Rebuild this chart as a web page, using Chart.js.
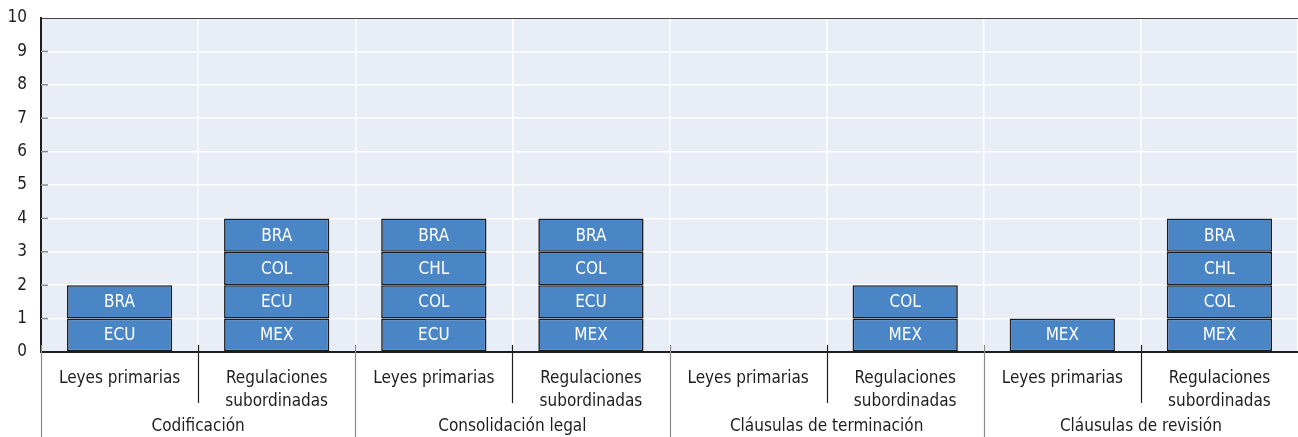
<!DOCTYPE html>
<html>
<head>
<meta charset="utf-8">
<script src="https://cdn.jsdelivr.net/npm/chart.js@4"></script>
<style>
  html, body { margin: 0; padding: 0; background: #fff; }
  #wrap { width: 1298px; height: 437px; }
</style>
</head>
<body>
<div id="wrap"><canvas id="chart"></canvas></div>
<script>
// categories (sub level) and groups (top level)
const subLabels = [
  ["Leyes primarias"], ["Regulaciones", "subordinadas"],
  ["Leyes primarias"], ["Regulaciones", "subordinadas"],
  ["Leyes primarias"], ["Regulaciones", "subordinadas"],
  ["Leyes primarias"], ["Regulaciones", "subordinadas"]
];
const groups = ["Codificación", "Consolidación legal", "Cláusulas de terminación", "Cláusulas de revisión"];

// country code for each stacked block, bottom to top
const layer1 = ["ECU", "MEX", "ECU", "MEX", null, "MEX", "MEX", "MEX"];
const layer2 = ["BRA", "ECU", "COL", "ECU", null, "COL", null, "COL"];
const layer3 = [null, "COL", "CHL", "COL", null, null, null, "CHL"];
const layer4 = [null, "BRA", "BRA", "BRA", null, null, null, "BRA"];
const layers = [layer1, layer2, layer3, layer4];

const yTicks = [0, 1, 2, 3, 4, 5, 6, 7, 8, 9, 10];

const FONT = '"DejaVu Sans Condensed", "Liberation Sans Narrow", sans-serif';
const BAR = '#4a86c6';
const DARK = '#1e1e1e';

// plot background
const bgPlugin = {
  id: 'bg',
  beforeDraw(chart) {
    const { ctx, chartArea: a } = chart;
    ctx.save();
    ctx.fillStyle = '#e9edf6';
    ctx.fillRect(a.left, a.top, a.right - a.left, a.bottom - a.top);
    ctx.restore();
  }
};

// country codes inside the blocks
const blockLabels = {
  id: 'blockLabels',
  afterDatasetsDraw(chart) {
    const ctx = chart.ctx;
    ctx.save();
    ctx.fillStyle = '#fff';
    ctx.font = '17px ' + FONT;
    ctx.textAlign = 'center';
    ctx.textBaseline = 'middle';
    chart.data.datasets.forEach((ds, di) => {
      const meta = chart.getDatasetMeta(di);
      meta.data.forEach((el, i) => {
        const code = layers[di][i];
        if (!code) return;
        ctx.fillText(code, el.x, (el.y + el.base) / 2 + 1);
      });
    });
    ctx.restore();
  }
};

// separators below the axis, group labels, little y ticks, top border
const axisExtras = {
  id: 'axisExtras',
  afterDraw(chart) {
    const { ctx, chartArea: a } = chart;
    const x = chart.scales.x;
    const y = chart.scales.y;
    const step = (a.right - a.left) / subLabels.length;
    ctx.save();
    // top border
    ctx.strokeStyle = '#444';
    ctx.lineWidth = 1;
    ctx.beginPath();
    ctx.moveTo(a.left, a.top + 0.5);
    ctx.lineTo(a.right, a.top + 0.5);
    ctx.stroke();
    // small y ticks inside plot
    ctx.strokeStyle = '#8a8a8a';
    ctx.lineWidth = 1.5;
    yTicks.slice(1, -1).forEach(v => {
      const py = y.getPixelForValue(v);
      ctx.beginPath();
      ctx.moveTo(a.left, py);
      ctx.lineTo(a.left + 7, py);
      ctx.stroke();
    });
    // separators
    for (let i = 0; i < subLabels.length; i++) {
      const bx = a.left + i * step;
      const isGroup = i % 2 === 0;
      ctx.strokeStyle = isGroup ? '#8a8a8a' : DARK;
      ctx.lineWidth = 1.2;
      ctx.beginPath();
      ctx.moveTo(Math.round(bx) + 0.5, a.bottom - 7);
      ctx.lineTo(Math.round(bx) + 0.5, isGroup ? chart.height : a.bottom + 51);
      ctx.stroke();
    }
    // group labels
    ctx.fillStyle = DARK;
    ctx.font = '17px ' + FONT;
    ctx.textAlign = 'center';
    ctx.textBaseline = 'middle';
    groups.forEach((g, gi) => {
      const cx = (x.getPixelForValue(gi * 2) + x.getPixelForValue(gi * 2 + 1)) / 2;
      ctx.fillText(g, cx, a.bottom + 75);
    });
    ctx.restore();
  }
};

new Chart(document.getElementById('chart'), {
  type: 'bar',
  data: {
    labels: subLabels,
    datasets: layers.map((layer, li) => ({
      label: 'Nivel ' + (li + 1),
      data: layer.map(c => (c ? 1 : null)),
      backgroundColor: BAR,
      borderColor: DARK,
      borderWidth: 1.6,
      borderSkipped: false,
      barPercentage: 0.67,
      categoryPercentage: 1
    }))
  },
  options: {
    responsive: true,
    maintainAspectRatio: false,
    animation: false,
    layout: { padding: { top: 18, right: 0, left: 0, bottom: 0 } },
    plugins: { legend: { display: false }, tooltip: { enabled: false } },
    scales: {
      x: {
        stacked: true,
        grid: { offset: true, color: '#fff', lineWidth: 1.5, drawTicks: false },
        border: { color: DARK, width: 2 },
        ticks: {
          color: DARK,
          font: { family: FONT, size: 17, lineHeight: 1.3 },
          padding: 16,
          maxRotation: 0,
          autoSkip: false
        },
        afterFit(s) { s.height = 85; s.paddingLeft = 0; s.paddingRight = 0; }
      },
      y: {
        stacked: true,
        min: 0,
        max: 10,
        grid: { color: '#fff', lineWidth: 1.5, drawTicks: false },
        border: { color: DARK, width: 2 },
        ticks: {
          stepSize: 1,
          color: DARK,
          font: { family: FONT, size: 17 },
          padding: 14
        },
        afterFit(s) { s.width = 41; s.paddingTop = 0; s.paddingBottom = 0; }
      }
    }
  },
  plugins: [bgPlugin, blockLabels, axisExtras]
});
</script>
</body>
</html>
